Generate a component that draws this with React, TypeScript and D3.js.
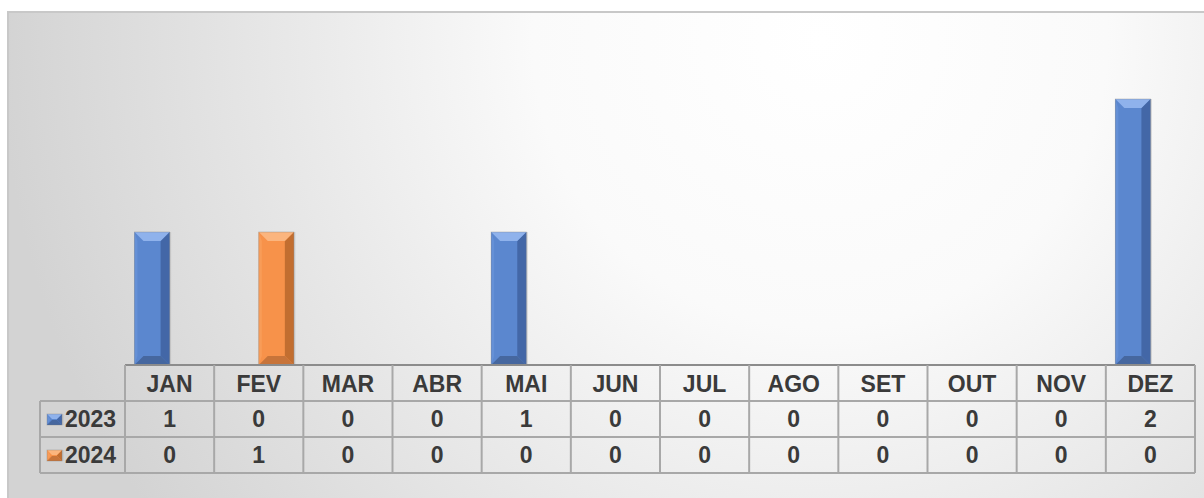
import React from "react";
import * as d3 from "d3";

const months = ["JAN", "FEV", "MAR", "ABR", "MAI", "JUN", "JUL", "AGO", "SET", "OUT", "NOV", "DEZ"];
const seriesNames = ["2023", "2024"];
const values2023 = [1, 0, 0, 0, 1, 0, 0, 0, 0, 0, 0, 2];
const values2024 = [0, 1, 0, 0, 0, 0, 0, 0, 0, 0, 0, 0];
const seriesValues = [values2023, values2024];

const W = 1204;
const H = 498;

const palettes = [
  { base: "#5b87cf", light: "#8fb2ec", side: "#6590d6", dark: "#3f62a0", bottom: "#46679f" },
  { base: "#f7924a", light: "#fbb57e", side: "#f89c58", dark: "#b9672c", bottom: "#c7743a" },
];

function BevelBar({ x, y, w, h, p, b = 9 }: any) {
  if (h <= 0) return null;
  const bb = Math.min(b, h / 2, w / 2);
  return (
    <g>
      <rect x={x + 1.5} y={y} width={w} height={h} fill="#9a9a9a" opacity={0.35} />
      <rect x={x} y={y} width={w} height={h} fill={p.base} />
      <polygon points={`${x},${y} ${x + 3},${y + bb} ${x + 3},${y + h - bb} ${x},${y + h}`} fill={p.side} />
      <polygon points={`${x + w},${y} ${x + w - bb},${y + bb} ${x + w - bb},${y + h - bb} ${x + w},${y + h}`} fill={p.dark} opacity={0.85} />
      <polygon points={`${x},${y} ${x + w},${y} ${x + w - bb},${y + bb} ${x + bb},${y + bb}`} fill={p.light} />
      <polygon points={`${x},${y + h} ${x + w},${y + h} ${x + w - bb},${y + h - bb} ${x + bb},${y + h - bb}`} fill={p.bottom} />
      <rect x={x} y={y} width={w} height={h} fill="none" stroke="#7a7a7a" strokeOpacity={0.4} strokeWidth={0.8} />
    </g>
  );
}

export default function App() {
  const tableLeft = 125;
  const tableRight = 1195;
  const labelLeft = 40;
  const baseY = 365;
  const rowH = [366, 401, 437, 473];

  const x = d3.scaleBand<string>().domain(months).range([tableLeft, tableRight]).paddingInner(0).paddingOuter(0);
  const xs = d3.scaleBand<string>().domain(seriesNames).range([0, x.bandwidth()]).paddingInner(0).paddingOuter(0.27);
  const y = d3.scaleLinear().domain([0, 2]).range([baseY, 99]);

  const font = "'Liberation Sans', Arial, sans-serif";
  const textColor = "#3a3a3a";
  const fs = 23;
  const lineColor = "#a8a8a8";

  return (
    <div style={{ position: "fixed", left: 0, top: 0 }}>
      <svg width={W} height={H} style={{ display: "block" }}>
        <defs>
          <radialGradient id="bg" gradientUnits="userSpaceOnUse" cx={820} cy={40} r={820} fx={820} fy={40}>
            <stop offset="0" stopColor="#ffffff" />
            <stop offset="0.35" stopColor="#fafafa" />
            <stop offset="1" stopColor="#d3d3d3" />
          </radialGradient>
        </defs>
        <rect x={0} y={0} width={W} height={H} fill="#ffffff" />
        <rect x={8} y={12} width={W} height={H} fill="url(#bg)" stroke="#c8c8c8" strokeWidth={2} />

        {seriesValues.map((vals, si) =>
          vals.map((v, i) => {
            const bx = (x(months[i]) as number) + (xs(seriesNames[si]) as number);
            const by = y(v);
            return <BevelBar key={`${si}-${i}`} x={bx} y={by} w={xs.bandwidth()} h={baseY - by} p={palettes[si]} />;
          })
        )}

        <g stroke={lineColor} strokeWidth={2} fill="none">
          <line x1={tableLeft} x2={tableRight} y1={baseY} y2={baseY} stroke="#8c8c8c" />
          <line x1={labelLeft} x2={tableRight} y1={rowH[1]} y2={rowH[1]} />
          <line x1={labelLeft} x2={tableRight} y1={rowH[2]} y2={rowH[2]} />
          <line x1={labelLeft} x2={tableRight} y1={rowH[3]} y2={rowH[3]} />
          <line x1={labelLeft} x2={labelLeft} y1={rowH[1]} y2={rowH[3]} />
          {months.map((m) => (
            <line key={m} x1={x(m)} x2={x(m)} y1={baseY} y2={rowH[3]} />
          ))}
          <line x1={tableRight} x2={tableRight} y1={baseY} y2={rowH[3]} />
        </g>

        <g fontFamily={font} fontWeight="bold" fontSize={fs} fill={textColor} textAnchor="middle">
          {months.map((m) => (
            <text key={m} x={(x(m) as number) + x.bandwidth() / 2} y={(rowH[0] + rowH[1]) / 2} dy="0.36em">
              {m}
            </text>
          ))}
          {seriesValues.map((vals, si) =>
            vals.map((v, i) => (
              <text
                key={`${si}-${i}`}
                x={(x(months[i]) as number) + x.bandwidth() / 2}
                y={(rowH[si + 1] + rowH[si + 2]) / 2}
                dy="0.36em"
              >
                {v}
              </text>
            ))
          )}
        </g>

        {seriesNames.map((s, si) => {
          const cy = (rowH[si + 1] + rowH[si + 2]) / 2;
          return (
            <g key={s}>
              <BevelBar x={47} y={cy - 5} w={15} h={11} p={palettes[si]} b={5} />
              <text x={65} y={cy} dy="0.36em" fontFamily={font} fontWeight="bold" fontSize={fs} fill={textColor}>
                {s}
              </text>
            </g>
          );
        })}
      </svg>
    </div>
  );
}
